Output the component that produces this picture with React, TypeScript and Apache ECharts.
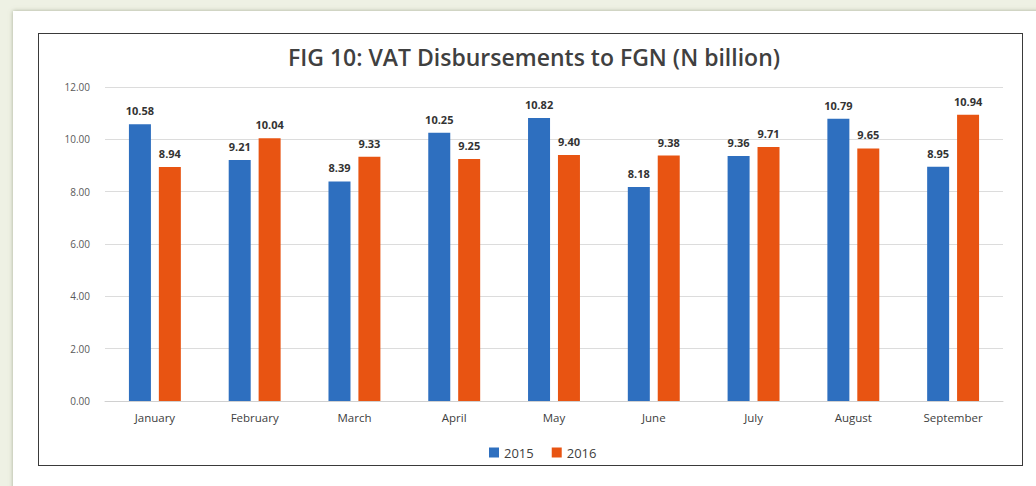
import React, { useEffect, useRef } from "react";
import * as echarts from "echarts";

const months = ["January", "February", "March", "April", "May", "June", "July", "August", "September"];
const vat2015 = [10.58, 9.21, 8.39, 10.25, 10.82, 8.18, 9.36, 10.79, 8.95];
const vat2016 = [8.94, 10.04, 9.33, 9.25, 9.4, 9.38, 9.71, 9.65, 10.94];
const seriesNames = ["2015", "2016"];

export default function App() {
  const ref = useRef<HTMLDivElement>(null);
  useEffect(() => {
    if (!ref.current) return;
    const chart = echarts.init(ref.current, null, { renderer: "svg" });
    const font = "'Open Sans', 'Liberation Sans', sans-serif";
    const label = {
      show: true,
      position: "top" as const,
      distance: 8,
      fontSize: 11,
      fontWeight: "bold" as const,
      color: "#333333",
      fontFamily: font,
      formatter: (p: any) => Number(p.value).toFixed(2),
    };
    chart.setOption({
      animation: false,
      textStyle: { fontFamily: font },
      title: {
        text: "FIG 10: VAT Disbursements to FGN (N billion)",
        left: 529,
        top: 40,
        textAlign: "center",
        textStyle: { fontSize: 23, fontWeight: 600, color: "#404040", fontFamily: font },
      },
      legend: {
        data: seriesNames,
        left: 484,
        top: 441,
        itemWidth: 10,
        itemHeight: 10,
        itemGap: 18,
        icon: "rect",
        textStyle: { fontSize: 13, color: "#404040", fontFamily: font },
      },
      grid: { left: 105, right: 33, top: 87, bottom: 85 },
      xAxis: {
        type: "category",
        data: months,
        axisLine: { lineStyle: { color: "#d0d0d0" } },
        axisTick: { show: false },
        axisLabel: { fontSize: 11.5, color: "#404040", margin: 10, fontFamily: font },
      },
      yAxis: {
        type: "value",
        min: 0,
        max: 12,
        interval: 2,
        axisLine: { show: false },
        axisTick: { show: false },
        splitLine: { lineStyle: { color: "#dcdcdc" } },
        axisLabel: {
          fontSize: 10,
          color: "#595959",
          margin: 15,
          fontFamily: font,
          formatter: (v: number) => v.toFixed(2),
        },
      },
      series: [
        {
          name: seriesNames[0],
          type: "bar",
          data: vat2015,
          barWidth: 22,
          barGap: "36%",
          itemStyle: { color: "#2E6FBF" },
          label,
        },
        {
          name: seriesNames[1],
          type: "bar",
          data: vat2016,
          barWidth: 22,
          itemStyle: { color: "#E85412" },
          label,
        },
      ],
    });
    return () => chart.dispose();
  }, []);

  return (
    <div style={{ position: "fixed", left: 0, top: 0, width: 1036, height: 486, background: "#eef1e4", overflow: "hidden" }}>
      <div
        style={{
          position: "absolute",
          left: 13,
          top: 11,
          width: 1040,
          height: 490,
          background: "#ffffff",
          boxShadow: "0 0 4px rgba(120,130,100,0.6)",
        }}
      />
      <div
        style={{
          position: "absolute",
          left: 38,
          top: 33,
          width: 983,
          height: 431,
          border: "1px solid #3a3a3a",
          background: "#ffffff",
        }}
      />
      <div ref={ref} style={{ position: "absolute", left: 0, top: 0, width: 1036, height: 486 }} />
    </div>
  );
}
